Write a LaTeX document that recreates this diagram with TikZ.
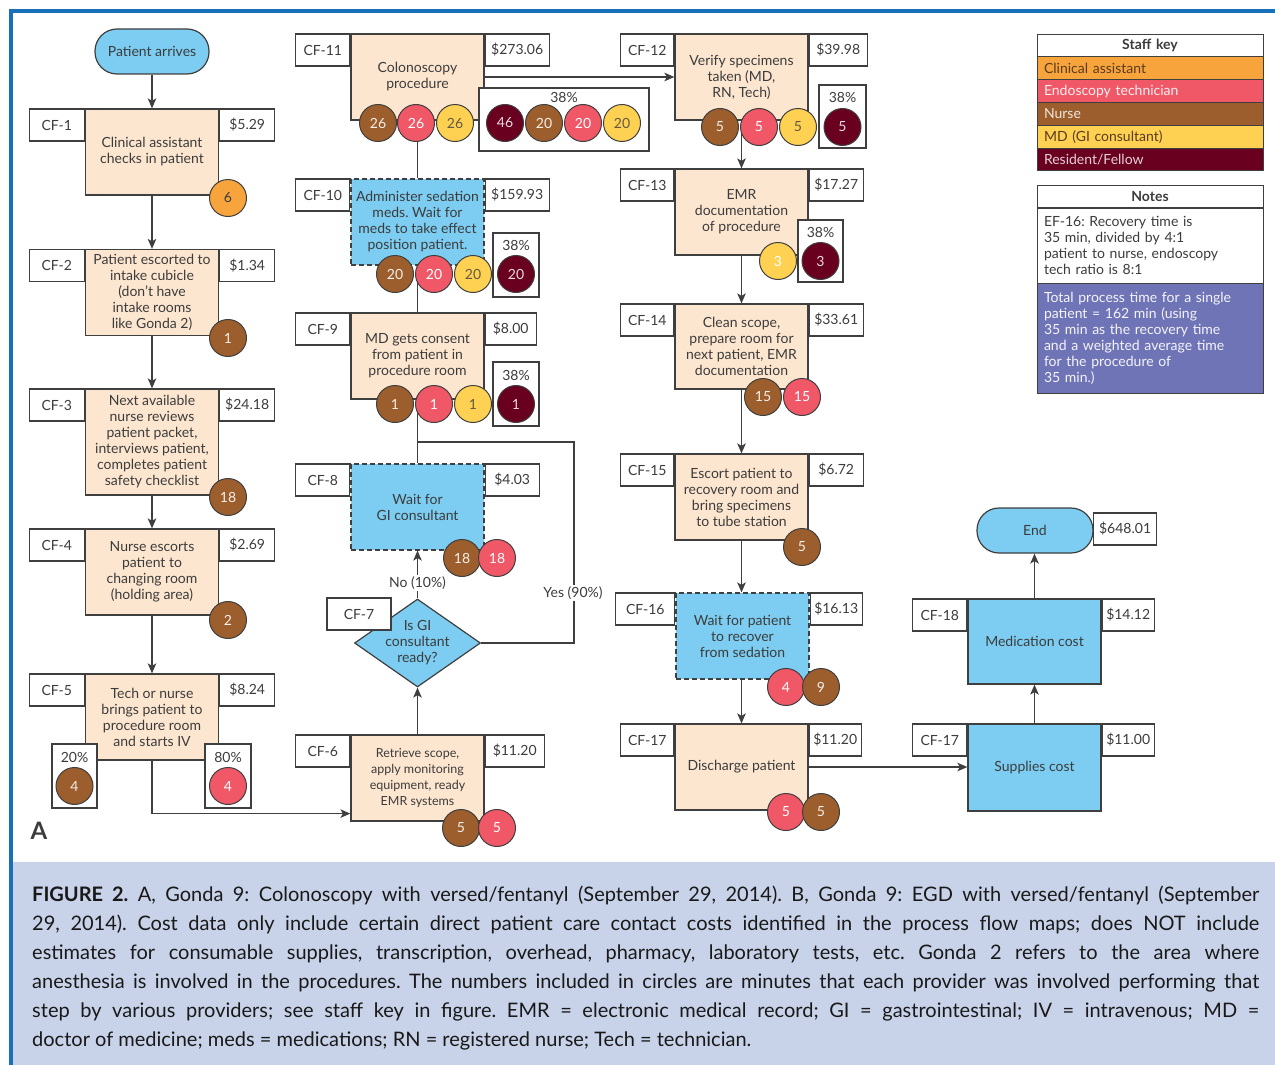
\documentclass[tikz,border=0pt]{standalone}
\usepackage{fontspec}
\setmainfont{Lato}
\usetikzlibrary{shapes.geometric,arrows.meta,calc}
\pgfdeclarelayer{bg}
\pgfsetlayers{bg,main}
\definecolor{lc}{HTML}{3F3F3F}
\definecolor{tc}{HTML}{3C3C3C}
\definecolor{peach}{HTML}{FDE6CF}
\definecolor{sky}{HTML}{7CCDF1}
\definecolor{caC}{HTML}{F7A43C}
\definecolor{etC}{HTML}{F05868}
\definecolor{nuC}{HTML}{9B5E2C}
\definecolor{mdC}{HTML}{FFD152}
\definecolor{rfC}{HTML}{6A0020}
\definecolor{purp}{HTML}{6F74B7}
\definecolor{capbg}{HTML}{C8D3EA}
\definecolor{frameblue}{HTML}{1A6FBB}
\definecolor{keydark}{HTML}{5B3B1E}
\begin{document}
\frenchspacing
\begin{tikzpicture}[x=1pt,y=-1pt,
  every node/.style={text=tc},
  ln/.style={draw=lc, line width=1.4pt},
  arr/.style={ln, -{Stealth[length=10pt,width=8.5pt,inset=2.5pt]}},
  box/.style={draw=lc, line width=1.2pt, inner sep=0pt, align=center,
    font=\fontsize{14}{16}\selectfont, minimum width=133, minimum height=86},
  proc/.style={box, fill=peach},
  wait/.style={box, fill=sky, dash pattern=on 5pt off 3pt},
  cost/.style={box, fill=sky},
  term/.style={draw=lc, line width=1.2pt, fill=sky, rounded corners=22pt,
    minimum width=114, minimum height=45, inner sep=0pt, font=\fontsize{14}{16}\selectfont},
  tag/.style={draw=lc, line width=1.2pt, fill=white, inner sep=0pt,
    minimum height=32, minimum width=55, font=\fontsize{14}{16}\selectfont},
  pbox/.style={draw=lc, line width=1.2pt, fill=white, inner sep=0pt},
  pct/.style={inner sep=0pt, font=\fontsize{14}{16}\selectfont},
  lbl/.style={fill=white, inner sep=1.5pt, font=\fontsize{14}{16}\selectfont},
  circ/.style={circle, draw=lc, line width=1pt, minimum size=37, inner sep=0pt,
    font=\fontsize{14}{14}\selectfont},
  ca/.style={circ, fill=caC, text=tc},
  et/.style={circ, fill=etC, text=white},
  nu/.style={circ, fill=nuC, text=white!90!nuC},
  md/.style={circ, fill=mdC, text=tc!80!mdC},
  rf/.style={circ, fill=rfC, text=white!85!rfC},
  dia/.style={diamond, draw=lc, line width=1.2pt, fill=sky, inner sep=0pt,
    minimum width=126, minimum height=88},
  keyrow/.style={draw=lc, line width=1pt, minimum height=22.8, text width=212,
    inner xsep=7pt, inner ysep=0pt, align=left, font=\fontsize{14}{16}\selectfont},
  keyhead/.style={keyrow, fill=white, align=center, font=\bfseries\fontsize{14}{16}\selectfont}
]
\useasboundingbox (0,0) rectangle (1275,1065);
% frame and caption background
\fill[capbg] (13,862) rectangle (1275,1065);
\fill[frameblue] (9,9) rectangle (1275,13);
\fill[frameblue] (9,9) rectangle (13,1065);

% ---------- left column ----------
\node[term] (pa) at (152,51.5) {Patient arrives};

\node[proc] (cf1) at (152,152) {Clinical assistant\\checks in patient};
\node[tag, anchor=north east] (t1) at (cf1.north west) {CF-1};
\node[tag, anchor=north west] (d1) at (cf1.north east) {\$5.29};
\node[ca] (o1) at (228,198) {6};

\node[proc] (cf2) at (152,292.5) {Patient escorted to\\intake cubicle\\(don't have\\intake rooms\\like Gonda 2)};
\node[tag, anchor=north east] (t2) at (cf2.north west) {CF-2};
\node[tag, anchor=north west] (d2) at (cf2.north east) {\$1.34};
\node[nu] (o2) at (228,338) {1};

\node[proc, minimum height=106] (cf3) at (152,442) {Next available\\nurse reviews\\patient packet,\\interviews patient,\\completes patient\\safety checklist};
\node[tag, anchor=north east] (t3) at (cf3.north west) {CF-3};
\node[tag, anchor=north west] (d3) at (cf3.north east) {\$24.18};
\node[nu] (o3) at (228,497) {18};

\node[proc] (cf4) at (152,572) {Nurse escorts\\patient to\\changing room\\(holding area)};
\node[tag, anchor=north east] (t4) at (cf4.north west) {CF-4};
\node[tag, anchor=north west] (d4) at (cf4.north east) {\$2.69};
\node[nu] (o4) at (228,620) {2};

\node[proc] (cf5) at (152,717) {Tech or nurse\\brings patient to\\procedure room\\and starts IV};
\node[tag, anchor=north east] (t5) at (cf5.north west) {CF-5};
\node[tag, anchor=north west] (d5) at (cf5.north east) {\$8.24};
\node[pbox, minimum width=45, minimum height=64] (p5a) at (74.5,776) {};
\node[pct] (p5at) at (74.5,757) {20\%};
\node[nu] (o5a) at (74.5,786) {4};
\node[pbox, minimum width=46, minimum height=64] (p5b) at (228,776) {};
\node[pct] (p5bt) at (228,757) {80\%};
\node[et] (o5b) at (228,786) {4};

\node[font=\bfseries\fontsize{24}{24}\selectfont] (lblA) at (39,831) {A};

% ---------- middle column ----------
\node[proc] (cf11) at (417.5,77) {Colonoscopy\\procedure};
\node[tag, anchor=north east, minimum width=54] (t11) at (cf11.north west) {CF-11};
\node[tag, anchor=north west, minimum width=64] (d11) at (cf11.north east) {\$273.06};
\node[pbox, minimum width=170, minimum height=63] (p11) at (564,119.5) {};
\node[pct] (p11t) at (564,97) {38\%};
\node[nu] (o11a) at (378,123) {26};
\node[et] (o11b) at (416,123) {26};
\node[md] (o11c) at (455,123) {26};
\node[rf] (o11d) at (505,123) {46};
\node[nu] (o11e) at (544,123) {20};
\node[et] (o11f) at (583,123) {20};
\node[md] (o11g) at (622,123) {20};

\node[wait] (cf10) at (417.5,222) {Administer sedation\\meds. Wait for\\meds to take effect\\position patient.};
\node[tag, anchor=north east, minimum width=54] (t10) at (cf10.north west) {CF-10};
\node[tag, anchor=north west, minimum width=64] (d10) at (cf10.north east) {\$159.93};
\node[pbox, minimum width=46, minimum height=64] (p10) at (516,265) {};
\node[pct] (p10t) at (516,245) {38\%};
\node[nu] (o10a) at (395,274) {20};
\node[et] (o10b) at (434,274) {20};
\node[md] (o10c) at (473,274) {20};
\node[rf] (o10d) at (516,274) {20};

\node[proc] (cf9) at (417.5,356) {MD gets consent\\from patient in\\procedure room};
\node[tag, anchor=north east, minimum width=54] (t9) at (cf9.north west) {CF-9};
\node[tag, anchor=north west, minimum width=51] (d9) at (cf9.north east) {\$8.00};
\node[pbox, minimum width=46, minimum height=64] (p9) at (516,394) {};
\node[pct] (p9t) at (516,375) {38\%};
\node[nu] (o9a) at (395,404) {1};
\node[et] (o9b) at (434,404) {1};
\node[md] (o9c) at (473,404) {1};
\node[rf] (o9d) at (516,404) {1};

\node[wait] (cf8) at (417.5,507) {Wait for\\GI consultant};
\node[tag, anchor=north east, minimum width=54] (t8) at (cf8.north west) {CF-8};
\node[tag, anchor=north west, minimum width=54] (d8) at (cf8.north east) {\$4.03};
\node[nu] (o8a) at (462,558) {18};
\node[et] (o8b) at (497,558) {18};

\node[dia] (cf7) at (417.5,643) {};
\node[align=center, inner sep=0pt, font=\fontsize{14}{16}\selectfont] (cf7t) at (417.5,643) {Is GI\\consultant\\ready?};
\node[tag, minimum width=64] (t7) at (359,614) {CF-7};

\node[proc, font=\fontsize{12.5}{16}\selectfont] (cf6) at (417.5,778) {Retrieve scope,\\apply monitoring\\equipment, ready\\EMR systems};
\node[tag, anchor=north east, minimum width=54] (t6) at (cf6.north west) {CF-6};
\node[tag, anchor=north west, minimum width=59] (d6) at (cf6.north east) {\$11.20};
\node[nu] (o6a) at (461,828) {5};
\node[et] (o6b) at (497,828) {5};

% ---------- right column ----------
\node[proc] (cf12) at (741.5,77) {Verify specimens\\taken (MD,\\RN, Tech)};
\node[tag, anchor=north east, minimum width=53] (t12) at (cf12.north west) {CF-12};
\node[tag, anchor=north west, minimum width=58] (d12) at (cf12.north east) {\$39.98};
\node[pbox, minimum width=47, minimum height=63] (p12) at (842.5,116.5) {};
\node[pct] (p12t) at (842.5,97) {38\%};
\node[nu] (o12a) at (720,127) {5};
\node[et] (o12b) at (759,127) {5};
\node[md] (o12c) at (798,127) {5};
\node[rf] (o12d) at (842.5,127) {5};

\node[proc] (cf13) at (741.5,212) {EMR\\documentation\\of procedure};
\node[tag, anchor=north east, minimum width=53] (t13) at (cf13.north west) {CF-13};
\node[tag, anchor=north west, minimum width=54] (d13) at (cf13.north east) {\$17.27};
\node[pbox, minimum width=45, minimum height=62] (p13) at (820.5,251) {};
\node[pct] (p13t) at (820.5,232) {38\%};
\node[md, text=white] (o13a) at (778,261) {3};
\node[rf] (o13b) at (820.5,261) {3};

\node[proc, minimum height=85] (cf14) at (741.5,346.5) {Clean scope,\\prepare room for\\next patient, EMR\\documentation};
\node[tag, anchor=north east, minimum width=53] (t14) at (cf14.north west) {CF-14};
\node[tag, anchor=north west, minimum width=54] (d14) at (cf14.north east) {\$33.61};
\node[nu] (o14a) at (763,397) {15};
\node[et] (o14b) at (802,397) {15};

\node[proc] (cf15) at (741.5,497) {Escort patient to\\recovery room and\\bring specimens\\to tube station};
\node[tag, anchor=north east, minimum width=53] (t15) at (cf15.north west) {CF-15};
\node[tag, anchor=north west, minimum width=54] (d15) at (cf15.north east) {\$6.72};
\node[nu] (o15a) at (802,547) {5};

\node[wait] (cf16) at (742.5,636) {Wait for patient\\to recover\\from sedation};
\node[tag, anchor=north east, minimum width=59] (t16) at (cf16.north west) {CF-16};
\node[tag, anchor=north west, minimum width=52] (d16) at (cf16.north east) {\$16.13};
\node[et] (o16a) at (786,687) {4};
\node[nu] (o16b) at (821,687) {9};

\node[proc] (cf17) at (741.5,767) {Discharge patient};
\node[tag, anchor=north east, minimum width=53] (t17) at (cf17.north west) {CF-17};
\node[tag, anchor=north west, minimum width=52] (d17) at (cf17.north east) {\$11.20};
\node[et] (o17a) at (786,812) {5};
\node[nu] (o17b) at (821,812) {5};

% ---------- far right column ----------
\node[cost, minimum height=87] (sup) at (1034.5,767.5) {Supplies cost};
\node[tag, anchor=north east, minimum width=54] (tsup) at (sup.north west) {CF-17};
\node[tag, anchor=north west, minimum width=52] (dsup) at (sup.north east) {\$11.00};

\node[cost, minimum height=85] (med) at (1034.5,641.5) {Medication cost};
\node[tag, anchor=north east, minimum width=54] (tmed) at (med.north west) {CF-18};
\node[tag, anchor=north west, minimum width=52] (dmed) at (med.north east) {\$14.12};

\node[term, minimum width=116] (end) at (1035,530.5) {End};
\node[tag, anchor=west, minimum width=63] (dend) at (1093,529) {\$648.01};

% ---------- staff key ----------
\node[keyhead] (skh) at (1150,45.5) {Staff key};
\node[keyrow, fill=caC, text=keydark] (sk1) at (1150,68.3) {Clinical assistant};
\node[keyrow, fill=etC, text=white!90!etC] (sk2) at (1150,91.1) {Endoscopy technician};
\node[keyrow, fill=nuC, text=white!85!nuC] (sk3) at (1150,113.9) {Nurse};
\node[keyrow, fill=mdC, text=keydark] (sk4) at (1150,136.7) {MD (GI consultant)};
\node[keyrow, fill=rfC, text=white!82!rfC] (sk5) at (1150,159.5) {Resident/Fellow};

% ---------- notes ----------
\node[keyhead] (nh) at (1150,196.5) {Notes};
\node[keyrow, fill=white, minimum height=75] (n1) at (1150,245.5) {EF-16: Recovery time is\\35 min, divided by 4:1\\patient to nurse, endoscopy\\tech ratio is 8:1};
\node[keyrow, fill=purp, text=white!92!purp, minimum height=110] (n2) at (1150,338) {Total process time for a single\\patient = 162 min (using\\35 min as the recovery time\\and a weighted average time\\for the procedure of\\35 min.)};

% ---------- connectors ----------
\coordinate (yr) at (574,442);
\coordinate (yj) at (417.5,442);
\begin{pgfonlayer}{bg}
\draw[arr] (pa.south) -- (cf1.north);
\draw[arr] (cf1.south) -- (cf2.north);
\draw[arr] (cf2.south) -- (cf3.north);
\draw[arr] (cf3.south) -- (cf4.north);
\draw[arr] (cf4.south) -- (cf5.north);
\draw[arr] (cf5.south) |- ($(cf6.south west)+(0,-8)$);
\draw[arr] (cf6.north) -- (cf7.south);
\draw[arr] (cf7.north) -- node[lbl, pos=0.33] (nolab) {No (10\%)} (cf8.south);
\draw[ln] (cf8.north) -- (cf9.south);
\draw[ln] (cf9.north) -- (cf10.south);
\draw[ln] (cf10.north) -- (cf11.south);
\draw[ln] (cf7.east) -| (yr) -- (yj);
\draw[arr] (cf11.east) -- (cf12.west);
\draw[arr] (cf12.south) -- (cf13.north);
\draw[arr] (cf13.south) -- (cf14.north);
\draw[arr] (cf14.south) -- (cf15.north);
\draw[arr] (cf15.south) -- (cf15.south |- cf16.north);
\draw[arr] (cf16.south -| cf17.north) -- (cf17.north);
\draw[arr] (cf17.east) -- (sup.west |- cf17.east);
\draw[arr] (sup.north) -- (med.south);
\draw[arr] (med.north) -- (end.south -| med.north);
\end{pgfonlayer}
\node[lbl] (yeslab) at (573,593) {Yes (90\%)};

% ---------- caption ----------
\node[anchor=north west, text width=1227, align=justify, inner sep=0pt,
  font=\fontsize{20}{29}\selectfont, text=black!90] (cap) at (32,886)
{\textbf{FIGURE 2.} A, Gonda 9: Colonoscopy with versed/fentanyl (September 29, 2014). B, Gonda 9: EGD with versed/fentanyl (September\linebreak
29, 2014). Cost data only include certain direct patient care contact costs identified in the process flow maps; does NOT include\linebreak
estimates for consumable supplies, transcription, overhead, pharmacy, laboratory tests, etc. Gonda 2 refers to the area where\linebreak
anesthesia is involved in the procedures. The numbers included in circles are minutes that each provider was involved performing that\linebreak
step by various providers; see staff key in figure. EMR = electronic medical record; GI = gastrointestinal; IV = intravenous; MD =\linebreak
doctor of medicine; meds = medications; RN = registered nurse; Tech = technician.};
\end{tikzpicture}
\end{document}
